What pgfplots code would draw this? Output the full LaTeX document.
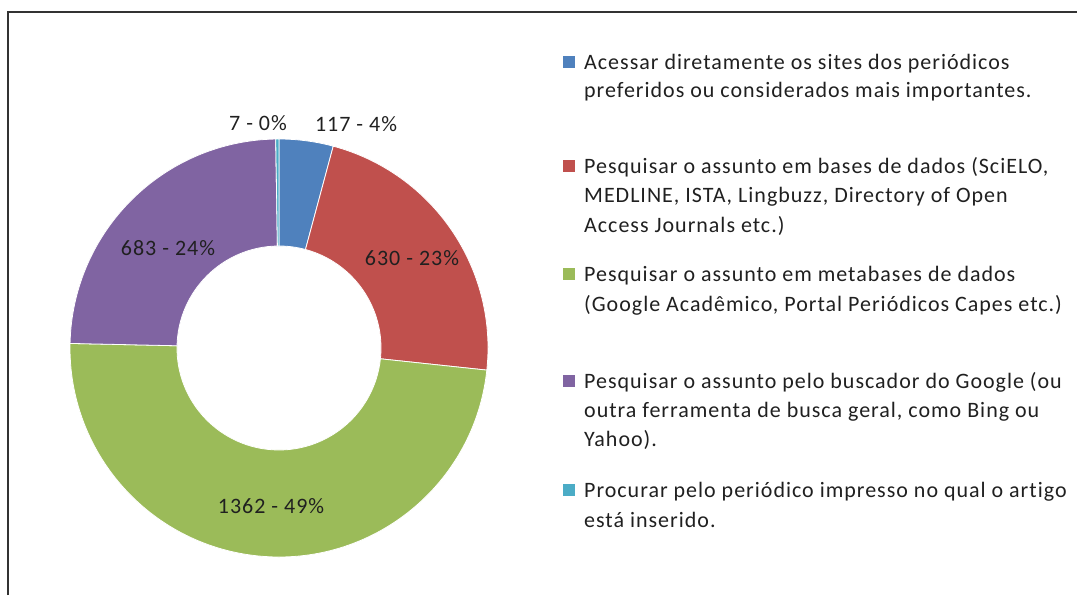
\documentclass[border=0pt]{standalone}
\usepackage{pgfplots}
\usepackage{pgfplotstable}
\pgfplotsset{compat=1.18}
\usepackage{fontspec}
\setmainfont[LetterSpace=4.5, Ligatures=NoCommon]{Carlito}
\definecolor{cA}{HTML}{4F81BD}
\definecolor{cB}{HTML}{C0504D}
\definecolor{cC}{HTML}{9BBB59}
\definecolor{cD}{HTML}{8064A2}
\definecolor{cE}{HTML}{4BACC6}
\definecolor{txt}{HTML}{202020}

\pgfplotstableread{
id value
A 117
B 630
C 1362
D 683
E 7
}\datatable

\pgfplotstablegetelem{0}{value}\of\datatable \let\vA\pgfplotsretval
\pgfplotstablegetelem{1}{value}\of\datatable \let\vB\pgfplotsretval
\pgfplotstablegetelem{2}{value}\of\datatable \let\vC\pgfplotsretval
\pgfplotstablegetelem{3}{value}\of\datatable \let\vD\pgfplotsretval
\pgfplotstablegetelem{4}{value}\of\datatable \let\vE\pgfplotsretval
\pgfmathsetmacro\tot{\vA+\vB+\vC+\vD+\vE}
\pgfmathsetmacro\aA{90}
\pgfmathsetmacro\aB{90-\vA/\tot*360}
\pgfmathsetmacro\aC{90-(\vA+\vB)/\tot*360}
\pgfmathsetmacro\aD{90-(\vA+\vB+\vC)/\tot*360}
\pgfmathsetmacro\aE{90-(\vA+\vB+\vC+\vD)/\tot*360}
\pgfmathsetmacro\aF{90-360}

\newcommand\sector[3]{%
  \fill[#3, draw=white, line width=0.8pt]
    ([shift={(#1:209pt)}]axis cs:279,247) arc[start angle=#1, end angle=#2, radius=209pt]
    -- ([shift={(#2:102pt)}]axis cs:279,247) arc[start angle=#2, end angle=#1, radius=102pt] -- cycle;}

\newcommand\lgline[2]{\node[anchor=base west, inner sep=0pt, text=txt] at (axis cs:584,{595-#1}) {#2};}
\newcommand\lgbox[2]{\fill[#2] (axis cs:563,{595-#1+8-6}) rectangle (axis cs:575,{595-#1+8+6});}

\begin{document}
\begin{tikzpicture}
\fontsize{22}{29}\selectfont
\begin{axis}[
  width=1077pt, height=595pt, scale only axis,
  xmin=0, xmax=1077, ymin=0, ymax=595,
  hide axis, clip=false,
]
\sector{\aA}{\aB}{cA}
\sector{\aB}{\aC}{cB}
\sector{\aC}{\aD}{cC}
\sector{\aD}{\aE}{cD}
\sector{\aE}{\aF}{cE}

\draw[black!80, line width=1.4pt] (axis cs:8,0) -- (axis cs:8,583) -- (axis cs:1077,583);

\begin{scope}[every node/.style={text=txt, inner sep=0pt}]
\node at (axis cs:258,{595-123}) {7 - 0\%};
\node at (axis cs:356,{595-124}) {117 - 4\%};
\node at (axis cs:412,{595-258}) {630 - 23\%};
\node at (axis cs:271,{595-506}) {1362 - 49\%};
\node at (axis cs:168,{595-248}) {683 - 24\%};
\end{scope}

\lgbox{70}{cA}
\lgline{70}{Acessar diretamente os sites dos periódicos}
\lgline{98}{preferidos ou considerados mais importantes.}
\lgbox{174}{cB}
\lgline{174}{Pesquisar o assunto em bases de dados (SciELO,}
\lgline{203}{MEDLINE, ISTA, Lingbuzz, Directory of Open}
\lgline{233}{Access Journals etc.)}
\lgbox{282}{cC}
\lgline{282}{Pesquisar o assunto em metabases de dados}
\lgline{312}{(Google Acadêmico, Portal Periódicos Capes etc.)}
\lgbox{389}{cD}
\lgline{389}{Pesquisar o assunto pelo buscador do Google (ou}
\lgline{418}{outra ferramenta de busca geral, como Bing ou}
\lgline{447}{Yahoo).}
\lgbox{498}{cE}
\lgline{498}{Procurar pelo periódico impresso no qual o artigo}
\lgline{527}{está inserido.}
\end{axis}
\pgfresetboundingbox
\useasboundingbox (0,0) rectangle (1077pt,595pt);
\end{tikzpicture}
\end{document}
